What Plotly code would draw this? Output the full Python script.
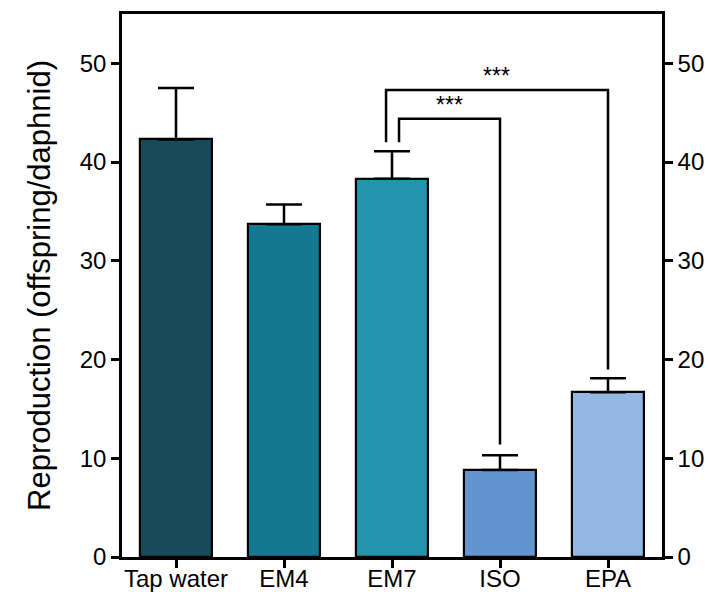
import plotly.graph_objects as go

categories = ["Tap water", "EM4", "EM7", "ISO", "EPA"]
means = [42.3, 33.7, 38.3, 8.8, 16.7]
errors = [5.2, 2.0, 2.8, 1.5, 1.4]
colors = ["#174B59", "#137990", "#2494AC", "#6295D0", "#93B7E2"]
y_ticks = [0, 10, 20, 30, 40, 50]

# significance brackets (x in category index units, y in data units)
outer_x = [1.945, 1.945, 4.0, 4.0]
outer_y = [42.0, 47.3, 47.3, 19.0]
inner_x = [2.065, 2.065, 3.0, 3.0]
inner_y = [42.0, 44.4, 44.4, 11.4]
star_labels = ["***", "***"]
star_x = [2.97, 2.53]
star_y = [47.3, 44.4]

FONT = "Liberation Sans, Arial, sans-serif"

fig = go.Figure()
fig.add_trace(go.Bar(
    x=list(range(len(categories))), y=means,
    marker=dict(color=colors, line=dict(color="black", width=2.2)),
    width=0.667,
    error_y=dict(type="data", symmetric=False, array=errors,
                 arrayminus=[0] * len(errors), color="black",
                 thickness=2.5, width=18),
    showlegend=False, hoverinfo="skip",
))
for bx, by in [(outer_x, outer_y), (inner_x, inner_y)]:
    fig.add_trace(go.Scatter(x=bx, y=by, mode="lines",
                             line=dict(color="black", width=2.5),
                             showlegend=False, hoverinfo="skip"))
# invisible trace for right axis
fig.add_trace(go.Scatter(x=[0], y=[0], yaxis="y2", mode="markers",
                         marker=dict(opacity=0), showlegend=False,
                         hoverinfo="skip"))

for t, sx, sy in zip(star_labels, star_x, star_y):
    fig.add_annotation(x=sx, y=sy, text=t, showarrow=False, yanchor="bottom",
                       yshift=-1, font=dict(family=FONT, size=23, color="black"))

axis_common = dict(
    range=[0, 55], tickvals=y_ticks, ticks="outside", ticklen=8,
    tickwidth=2.5, tickcolor="black", showline=True, linewidth=2.5,
    linecolor="black", showgrid=False, zeroline=False, automargin=False,
    tickfont=dict(family=FONT, size=24, color="black"),
)

fig.update_layout(
    width=708, height=592,
    margin=dict(l=122, r=46, t=14, b=35),
    plot_bgcolor="white", paper_bgcolor="white",
    xaxis=dict(range=[-0.5, 4.5], tickvals=list(range(len(categories))),
               ticktext=categories, ticks="outside", ticklen=8, tickwidth=2.5,
               tickcolor="black", showline=True, linewidth=2.5,
               linecolor="black", mirror=True, showgrid=False,
               zeroline=False, automargin=False, ticklabelstandoff=-10,
               tickfont=dict(family=FONT, size=24, color="black")),
    yaxis=dict(**axis_common,
               title=dict(text="Reproduction (offspring/daphnid)",
                          font=dict(family=FONT, size=31, color="black"),
                          standoff=20)),
    yaxis2=dict(**axis_common, overlaying="y", side="right"),
    bargap=0,
)

fig.write_html("out.html", config={"displayModeBar": False},
               post_script="document.body.style.margin='0';"
                           "document.body.style.overflow='hidden';")
